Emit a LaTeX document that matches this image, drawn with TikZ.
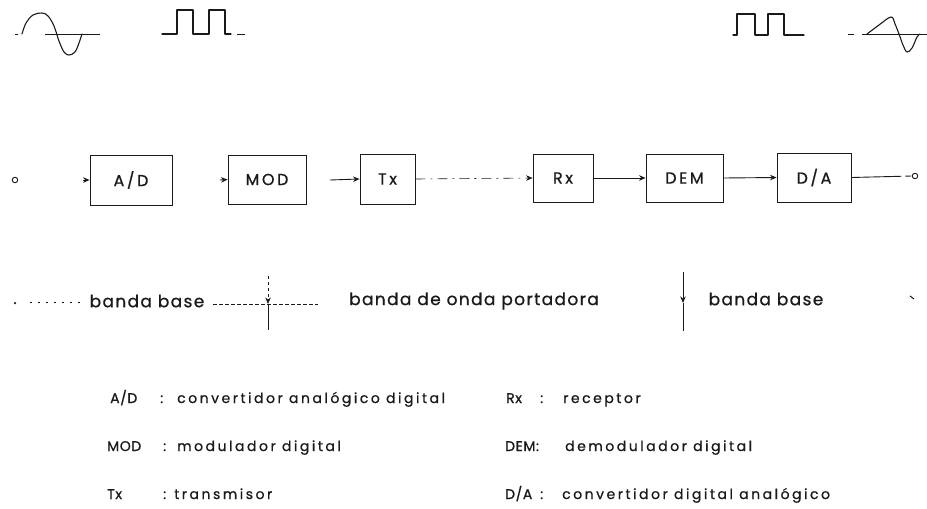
\documentclass[tikz,border=0pt]{standalone}
\usepackage{fontspec}
\usetikzlibrary{arrows.meta}
\newfontfamily\boxfont[LetterSpace=16,FakeBold=0.8]{Poppins}
\newfontfamily\bandfont[LetterSpace=8,FakeBold=0.8]{Poppins}
\newfontfamily\legfont[LetterSpace=18,FakeBold=0.8]{Poppins}
\newfontfamily\keyfont[LetterSpace=4,FakeBold=0.8]{Poppins}
\definecolor{ink}{HTML}{1A1A1A}
\tikzset{
  ink/.style={draw=ink, line width=0.9pt},
  block/.style={ink, rectangle, inner sep=0pt, font=\boxfont\fontsize{16}{16}\selectfont, text=ink},
  term/.style={circle, draw=ink, line width=0.9pt, minimum size=5.5pt, inner sep=0pt},
  tip/.style={-{Stealth[length=6.5pt,width=5.5pt]}},
  band/.style={font=\bandfont\fontsize{17}{17}\selectfont, text=ink, inner sep=0pt},
  leg/.style={font=\legfont\fontsize{14}{14}\selectfont, text=ink, inner sep=0pt, anchor=base west},
  key/.style={leg, font=\keyfont\fontsize{14}{14}\selectfont},
  wave/.style={draw=ink, line width=1.1pt, line join=round, line cap=round},
  axis/.style={draw=ink, line width=0.5pt},
}
\begin{document}
\begin{tikzpicture}[x=1pt,y=-1pt]
\useasboundingbox (0,0) rectangle (927,509);

% ---- signal sketches along the top
% analog input
\draw[axis] (15,34) -- (18,34);
\draw[axis] (45,34) -- (100,34);
\draw[wave] plot[smooth, tension=0.6] coordinates
  {(22,34) (26,23) (33,15) (42,13) (48,16) (54,26) (59,41) (64,52) (69,55) (75,52) (79,43) (82,34)};
% digital pulses after A/D
\draw[wave] (162,34) -- (177,34) -- (177,10) -- (193,10) -- (193,34) -- (209,34)
  -- (209,10) -- (225,10) -- (225,34) -- (231,34);
\draw[axis] (237,34) -- (245,34);
% digital pulses after DEM
\draw[wave] (733,35) -- (737,35) -- (737,14) -- (755,14) -- (755,35) -- (768,35)
  -- (768,14) -- (784,14) -- (784,35) -- (804,35);
% analog output
\draw[axis] (848,34) -- (854,34);
\draw[axis] (862,34) -- (927,34);
\draw[wave] plot[smooth, tension=0.6] coordinates
  {(867,34) (879,25) (891,17) (895,24) (899,34) (903,45) (907,52) (912,48) (917,37) (920,34)};

% ---- transmission chain
\node[term] (in) at (15,180) {};
\node[block, minimum width=82pt, minimum height=50pt] (ad)  at (131,180)   {A/D};
\node[block, minimum width=78pt, minimum height=49pt] (mod) at (267,179.5) {MOD};
\node[block, minimum width=55pt, minimum height=50pt] (tx)  at (387.5,179) {Tx};
\node[block, minimum width=60pt, minimum height=48pt] (rx)  at (563,178)   {Rx};
\node[block, minimum width=77pt, minimum height=48pt] (dem) at (684.5,178) {DEM};
\node[block, minimum width=74pt, minimum height=49pt] (da)  at (814,177.5) {D/A};
\node[term] (out) at (915,176) {};

\coordinate (adin)  at (83,180);
\coordinate (modin) at (220,180);
\coordinate (txin)  at (330,180);

\draw[ink, tip] (adin) -- (ad.west);
\draw[ink, tip] (modin) -- (mod.west);
\draw[ink, tip] (txin) -- (tx.west);
\draw[ink, tip, line width=0.6pt, dash pattern=on 10pt off 5pt on 2pt off 5pt] (tx.east) -- (rx.west);
\draw[ink, tip] (rx.east) -- (dem.west);
\draw[ink, tip] (dem.east) -- (da.west);
\draw[ink, dash pattern=on 50pt off 4pt on 6pt off 3pt] (da.east) -- (out.west);

% ---- band limits
\node[circle, fill=ink, minimum size=2.5pt, inner sep=0pt] (lend) at (15,303) {};
\node[band] (bb1) at (147,301) {banda base};
\node[band] (bop) at (474,301) {banda de onda portadora};
\node[band] (bb2) at (766,299) {banda base};

\coordinate (ldots) at (30,302);
\draw[ink, line width=0.6pt, dash pattern=on 2pt off 6pt] (ldots) -- ([xshift=-8pt]bb1.west |- ldots);

% first boundary (analog/digital)
\coordinate (m1) at (268,304);
\coordinate (m1top) at (268,276);
\coordinate (m1bot) at (268,330);
\coordinate (d1a) at (213,304);
\coordinate (d1b) at (318,304);
\draw[ink, line width=0.6pt, dash pattern=on 4pt off 2pt] (d1a) -- (d1b);
\draw[ink, line width=0.6pt, dash pattern=on 3pt off 3pt, tip] (m1top) -- (m1);
\draw[ink, line width=0.9pt] (m1) -- (m1bot);

% second boundary (digital/analog)
\coordinate (m2) at (683,303);
\coordinate (m2top) at (683,272);
\coordinate (m2bot) at (683,331);
\draw[ink, line width=0.8pt, tip] (m2top) -- (m2);
\draw[ink, line width=0.8pt] (m2) -- (m2bot);

\coordinate (rt1) at (910,296);
\coordinate (rt2) at (914,299);
\draw[ink, line width=1pt] (rt1) -- (rt2);

% ---- legend
\node[key] (k1) at (110,403) {A/D};  \node[leg] (c1) at (160,403) {:};
\node[leg] (v1) at (177,403) {convertidor analógico digital};
\node[key] (k2) at (107,451) {MOD};  \node[leg] (c2) at (163,451) {:};
\node[leg] (v2) at (177,451) {modulador digital};
\node[key] (k3) at (107,499) {Tx};   \node[leg] (c3) at (163,499) {:};
\node[leg] (v3) at (174,499) {transmisor};

\node[key] (k4) at (506,403) {Rx};   \node[leg] (c4) at (540,403) {:};
\node[leg] (v4) at (563,403) {receptor};
\node[key] (k5) at (505,451) {DEM:};
\node[leg] (v5) at (565,451) {demodulador digital};
\node[key] (k6) at (505,499) {D/A};  \node[leg] (c6) at (540,499) {:};
\node[leg] (v6) at (562,499) {convertidor digital analógico};
\end{tikzpicture}
\end{document}
